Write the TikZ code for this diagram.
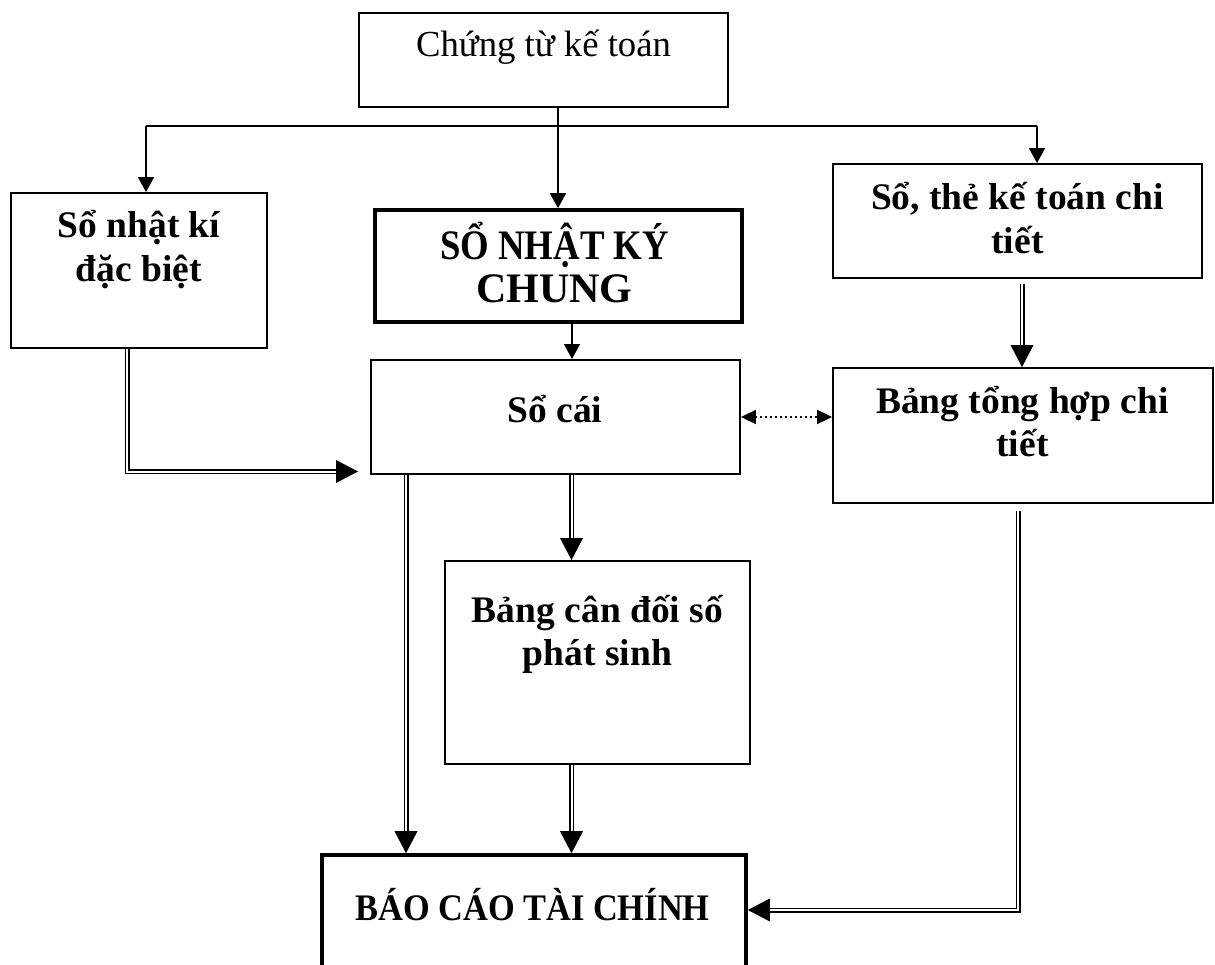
\documentclass[tikz,border=0pt]{standalone}
\usepackage{fontspec}
\setmainfont{Liberation Serif}
\usetikzlibrary{arrows.meta,decorations.markings,calc}

% two centred lines whose baseline is the first line's baseline
\newcommand\twolines[2]{\begin{tabular}[t]{@{}c@{}}#1\\#2\end{tabular}}
% horizontally condensed capitals
\newcommand\narrowcaps[2]{\scalebox{#1}[1]{#2}}

\tikzset{
  box/.style={draw, line width=1.9pt, inner sep=0pt},
  heavybox/.style={box, line width=3.6pt},
  lbl/.style={inner sep=0pt, anchor=base, font=\fontsize{37.5}{43.5}\selectfont\bfseries},
  biglbl/.style={lbl, font=\fontsize{42}{43}\selectfont\bfseries},
  plainlbl/.style={inner sep=0pt, anchor=base, font=\fontsize{36.7}{42}\selectfont},
  link/.style={line width=1.6pt, -{Triangle[length=15pt,width=16pt]}},
  bus/.style={line width=1.4pt},
  dbl/.style={double, double distance=2pt, line width=1.5pt, shorten >=20pt,
    postaction={decorate, decoration={markings,
      mark=at position 1 with {\fill (0pt,0pt) -- (-22pt,11.5pt) -- (-22pt,-11.5pt) -- cycle;}}}},
  dots/.style={line width=2pt, dash pattern=on 2pt off 3pt,
    {Triangle[length=15pt,width=14pt]}-{Triangle[length=15pt,width=14pt]}},
}

\begin{document}
\begin{tikzpicture}[x=1pt, y=-1pt]
  \useasboundingbox (0,0) rectangle (1215,965);
  \fill[white] (0,0) rectangle (1215,965);
  \clip (0,0) rectangle (1215,965);

  % boxes
  \node[box, minimum width=369pt, minimum height=94pt]  (ctkt) at (543.5,60)   {};
  \node[box, minimum width=256pt, minimum height=155pt] (ndb)  at (139,270.5)  {};
  \node[heavybox, minimum width=367pt, minimum height=112pt] (nkc) at (558.5,266) {};
  \node[box, minimum width=369pt, minimum height=114pt] (sc)   at (555.5,417)  {};
  \node[box, minimum width=369pt, minimum height=114pt] (stct) at (1017.5,221) {};
  \node[box, minimum width=380pt, minimum height=135pt] (bth)  at (1023,435.5) {};
  \node[box, minimum width=305pt, minimum height=203pt] (bcd)  at (597.5,662.5) {};
  \node[heavybox, minimum width=424pt, minimum height=155pt] (bctc) at (534,932.5) {};

  % texts
  \node[plainlbl] (ctkt-t) at (543.5,57) {Chứng từ kế toán};
  \node[lbl] (ndb-t)  at (139,238)    {\twolines{Sổ nhật kí}{đặc biệt}};
  \node[biglbl] (nkc-t) at (554.5,260) {\twolines{\narrowcaps{0.875}{SỔ NHẬT KÝ}}{CHUNG}};
  \node[lbl] (sc-t)   at (555,422)    {Sổ cái};
  \node[lbl] (stct-t) at (1017.5,210) {\twolines{Sổ, thẻ kế toán chi}{tiết}};
  \node[lbl] (bth-t)  at (1022.5,413) {\twolines{Bảng tổng hợp chi}{tiết}};
  \node[lbl] (bcd-t)  at (597.5,622)  {\twolines{Bảng cân đối số}{phát sinh}};
  \node[lbl] (bctc-t) at (532.5,920)  {\narrowcaps{0.917}{BÁO CÁO TÀI CHÍNH}};

  % column and row guides for the connectors
  \coordinate (busL) at (146,126);
  \coordinate (busR) at (1037,126);
  \coordinate (xN) at (558,0);
  \coordinate (xS) at (572,0);
  \coordinate (xA) at (406,0);
  \coordinate (xB) at (571.5,0);
  \coordinate (xC) at (1022,0);
  \coordinate (xD) at (1018,0);
  \coordinate (bendL) at (127,471.5);
  \coordinate (tipL) at (358,471.5);
  \coordinate (bendR) at (1018,910);
  \coordinate (yDot) at (0,417);

  % single arrows from the source documents
  \draw[link] (ctkt.south -| xN) -- (nkc.north -| xN);
  \draw[bus] (busL) -- (busR);
  \draw[link] (busL) -- (busL |- ndb.north);
  \draw[link] (busR) -- (busR |- stct.north);
  \draw[link] (nkc.south -| xS) -- (sc.north -| xS);

  % reconciliation
  \draw[dots] (sc.east |- yDot) -- (bth.west |- yDot);

  % double arrows
  \draw[dbl] (ndb.south -| bendL) -- (bendL) -- (tipL);
  \draw[dbl] (sc.south -| xA) -- (bctc.north -| xA);
  \draw[dbl] (sc.south -| xB) -- (bcd.north -| xB);
  \draw[dbl] (bcd.south -| xB) -- (bctc.north -| xB);
  \draw[dbl, shorten <=5pt] (stct.south -| xC) -- (bth.north -| xC);
  \draw[dbl, shorten <=7pt] (bth.south -| xD) -- (bendR) -- (bctc.east |- bendR);
\end{tikzpicture}
\end{document}
